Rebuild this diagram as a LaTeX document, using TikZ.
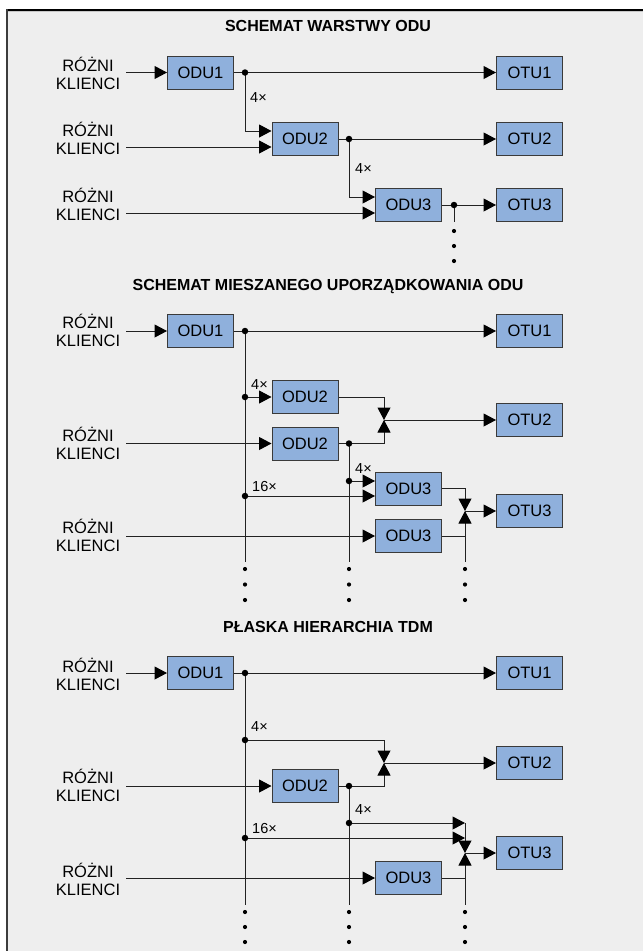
\documentclass[tikz,border=0pt]{standalone}
\usepackage{fontspec}
\setmainfont{Liberation Sans}
\usetikzlibrary{arrows.meta}
\definecolor{bgc}{HTML}{EEEEEE}
\definecolor{boxfill}{HTML}{8FB0DC}
\definecolor{boxline}{HTML}{3A3A3A}
\definecolor{wirec}{HTML}{222222}
\definecolor{framel}{HTML}{3C3C3C}
\begin{document}
\begin{tikzpicture}[x=1pt,y=-1pt,
 box/.style={draw=boxline, fill=boxfill, line width=1pt, minimum width=66pt, minimum height=33pt, inner sep=0pt, font=\fontsize{16.5}{19}\selectfont},
 cli/.style={align=center, inner sep=0pt, font=\fontsize{16.5}{17.5}\selectfont},
 ttl/.style={anchor=base, inner sep=0pt, font=\bfseries\fontsize{16}{19}\selectfont},
 mult/.style={anchor=base west, inner sep=0pt, font=\fontsize{14.5}{16}\selectfont},
 wire/.style={draw=wirec, line width=1pt},
 arr/.style={wire, -{Triangle[length=12.5pt,width=13pt,color=black,fill=black]}},
 jdot/.style={circle, fill=black, inner sep=0pt, minimum size=6.5pt},
 vdot/.style={circle, fill=black, inner sep=0pt, minimum size=4.2pt}]
\useasboundingbox (0,0) rectangle (643,951);
\fill[white] (0,0) rectangle (643,951);
\fill[bgc] (6,9) rectangle (643,951);
\draw[gray!45, line width=1pt] (8,11.3) -- (643,11.3);
\draw[black, line width=2pt] (6,9.5) -- (643,9.5);
\draw[framel, line width=2pt] (6.8,9) -- (6.8,951);

% ================= SECTION 1 =================
\node[ttl] (T1) at (328,31) {SCHEMAT WARSTWY ODU};
\node[cli] (c11) at (88,73.3) {RÓŻNI\\KLIENCI};
\node[cli] (c12) at (88,138.3) {RÓŻNI\\KLIENCI};
\node[cli] (c13) at (88,204.3) {RÓŻNI\\KLIENCI};
\node[box] (a11) at (200.5,72.5) {ODU1};
\node[box] (a12) at (305,139) {ODU2};
\node[box] (a13) at (408.5,205) {ODU3};
\node[box] (o11) at (529.5,72.5) {OTU1};
\node[box] (o12) at (529.5,139) {OTU2};
\node[box] (o13) at (529.5,205) {OTU3};
\coordinate (s11) at (126,72.5);
\coordinate (s12) at (126,147);
\coordinate (s13) at (126,213);
\coordinate (j11) at (245,72.5);
\coordinate (j12) at (349,139);
\coordinate (j13) at (454,205);
\coordinate (e13) at (454,222);
\draw[arr] (s11) -- (a11.west);
\draw[arr] (a11.east) -- (o11.west);
\draw[arr] (j11) |- ([yshift=8pt]a12.west);
\draw[arr] (s12) -- ([yshift=-8pt]a12.west);
\draw[arr] (a12.east) -- (o12.west);
\draw[arr] (j12) |- ([yshift=8pt]a13.west);
\draw[arr] (s13) -- ([yshift=-8pt]a13.west);
\draw[arr] (a13.east) -- (o13.west);
\draw[wire] (j13) -- (e13);
\node[jdot] at (j11) {};
\node[jdot] at (j12) {};
\node[jdot] at (j13) {};
\node[mult] (x11) at (250,102) {4×};
\node[mult] (x12) at (355,173) {4×};
\foreach \yy in {231,246,261} \node[vdot] at (454,\yy) {};

% ================= SECTION 2 =================
\node[ttl] (T2) at (328,290) {SCHEMAT MIESZANEGO UPORZĄDKOWANIA ODU};
\node[cli] (c21) at (88,330.3) {RÓŻNI\\KLIENCI};
\node[cli] (c22) at (88,443.3) {RÓŻNI\\KLIENCI};
\node[cli] (c23) at (88,535.3) {RÓŻNI\\KLIENCI};
\node[box] (a21) at (200.5,331) {ODU1};
\node[box] (a22) at (305,397) {ODU2};
\node[box] (a22b) at (305,443.5) {ODU2};
\node[box] (a23) at (408.5,488.5) {ODU3};
\node[box] (a23b) at (408.5,536) {ODU3};
\node[box] (o21) at (529.5,331) {OTU1};
\node[box] (o22) at (529.5,420) {OTU2};
\node[box] (o23) at (529.5,511) {OTU3};
\coordinate (s21) at (126,331);
\coordinate (s22) at (126,443.5);
\coordinate (s23) at (126,536);
\coordinate (j21) at (245,331);
\coordinate (j24) at (245,397);
\coordinate (j27) at (245,496);
\coordinate (j25) at (349,443.5);
\coordinate (j26) at (349,481);
\coordinate (m22) at (384,420);
\coordinate (m23) at (465,511);
\coordinate (v21) at (245,562);
\coordinate (v22) at (349,562);
\coordinate (v23) at (465,562);
\draw[wire] (j21) -- (v21);
\draw[wire] (j25) -- (v22);
\draw[arr] (s21) -- (a21.west);
\draw[arr] (a21.east) -- (o21.west);
\draw[arr] (j24) -- (a22.west);
\draw[arr] (s22) -- (a22b.west);
\draw[arr] (a22.east) -| (m22);
\draw[arr] (a22b.east) -| (m22);
\draw[arr] (m22) -- (o22.west);
\draw[arr] (j26) -- ([yshift=7.5pt]a23.west);
\draw[arr] (j27) -- ([yshift=-7.5pt]a23.west);
\draw[arr] (s23) -- (a23b.west);
\draw[arr] (a23.east) -| (m23);
\draw[arr] (a23b.east) -| (m23);
\draw[wire] (a23b.east -| m23) -- (v23);
\draw[arr] (m23) -- (o23.west);
\foreach \j in {j21,j24,j27,j25,j26} \node[jdot] at (\j) {};
\node[mult] (x21) at (251,389) {4×};
\node[mult] (x22) at (355,473) {4×};
\node[mult] (x23) at (252,491) {16×};
\foreach \xx in {245,349,465} \foreach \yy in {569,584.5,600} \node[vdot] at (\xx,\yy) {};

% ================= SECTION 3 =================
\node[ttl] (T3) at (328,632) {PŁASKA HIERARCHIA TDM};
\node[cli] (c31) at (88,674.3) {RÓŻNI\\KLIENCI};
\node[cli] (c32) at (88,785.3) {RÓŻNI\\KLIENCI};
\node[cli] (c33) at (88,879.3) {RÓŻNI\\KLIENCI};
\node[box] (a31) at (200.5,673) {ODU1};
\node[box] (a32) at (305,786) {ODU2};
\node[box] (a33) at (408.5,878) {ODU3};
\node[box] (o31) at (529.5,673) {OTU1};
\node[box] (o32) at (529.5,763) {OTU2};
\node[box] (o33) at (529.5,853) {OTU3};
\coordinate (s31) at (126,673);
\coordinate (s32) at (126,786);
\coordinate (s33) at (126,878);
\coordinate (j31) at (245,673);
\coordinate (j34) at (245,740);
\coordinate (j37) at (245,838);
\coordinate (j35) at (349,786);
\coordinate (j36) at (349,823);
\coordinate (m32) at (384,763);
\coordinate (m33) at (465,853);
\coordinate (k31) at (465,823);
\coordinate (k32) at (465,838);
\coordinate (v31) at (245,905);
\coordinate (v32) at (349,905);
\coordinate (v33) at (465,905);
\draw[wire] (j31) -- (v31);
\draw[wire] (j35) -- (v32);
\draw[arr] (s31) -- (a31.west);
\draw[arr] (a31.east) -- (o31.west);
\draw[arr] (j34) -| (m32);
\draw[arr] (s32) -- (a32.west);
\draw[arr] (a32.east) -| (m32);
\draw[arr] (m32) -- (o32.west);
\draw[arr] (j36) -- (k31);
\draw[arr] (j37) -- (k32);
\draw[arr] (k31) -- (m33);
\draw[arr] (s33) -- (a33.west);
\draw[arr] (a33.east) -| (m33);
\draw[wire] (a33.east -| m33) -- (v33);
\draw[arr] (m33) -- (o33.west);
\foreach \j in {j31,j34,j37,j35,j36} \node[jdot] at (\j) {};
\node[mult] (x31) at (251,731) {4×};
\node[mult] (x32) at (355,814) {4×};
\node[mult] (x33) at (252,833) {16×};
\foreach \xx in {245,349,465} \foreach \yy in {912,927,942} \node[vdot] at (\xx,\yy) {};
\end{tikzpicture}
\end{document}
